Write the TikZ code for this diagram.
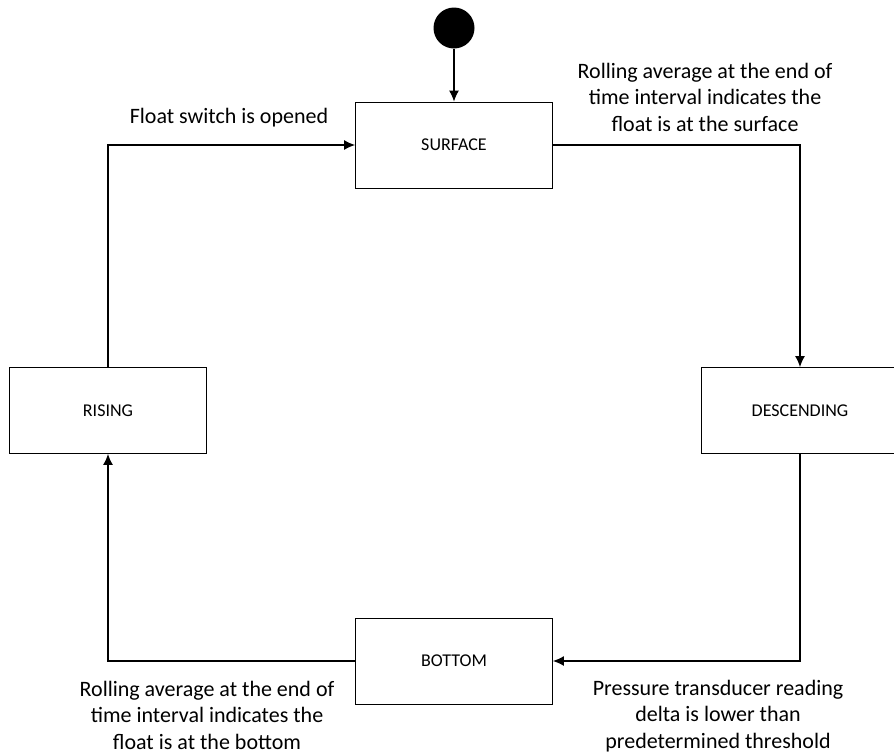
\documentclass[tikz,border=0pt]{standalone}
\usepackage{fontspec}
\setmainfont{Carlito}
\usetikzlibrary{arrows.meta}
\begin{document}
\begin{tikzpicture}[x=1pt,y=-1pt,line width=1.2pt,>={Latex[length=11pt,width=10pt]},
    state/.style={draw,fill=white,line width=0.9pt,minimum width=197pt,minimum height=86pt,font=\fontsize{18}{20}\selectfont},
    note/.style={align=center,font=\fontsize{22}{26.5}\selectfont}]
    \useasboundingbox (0,0) rectangle (894,753);
    %% initial state and states
    \node[circle,fill=black,minimum size=41pt,inner sep=0pt] (init) at (454,28) {};
    \node[state] (surface) at (454,145) {SURFACE};
    \node[state] (descending) at (800,410.5) {DESCENDING};
    \node[state] (bottom) at (454,661) {BOTTOM};
    \node[state] (rising) at (108,410.5) {RISING};
    %% transitions
    \draw[->] (init) -- (surface);
    \draw[->] (surface.east) -| (descending.north);
    \draw[->] (descending.south) |- (bottom.east);
    \draw[->] (bottom.west) -| (rising.south);
    \draw[->] (rising.north) |- (surface.west);
    %% guards
    \node[note] (opened) at (229,118) {Float switch is opened};
    \node[note] (atsurface) at (705,97) {Rolling average at the end of\\time interval indicates the\\float is at the surface};
    \node[note] (lower) at (718,716) {Pressure transducer reading\\delta is lower than\\predetermined threshold};
    \node[note] (atbottom) at (207,715) {Rolling average at the end of\\time interval indicates the\\float is at the bottom};
\end{tikzpicture}
\end{document}
